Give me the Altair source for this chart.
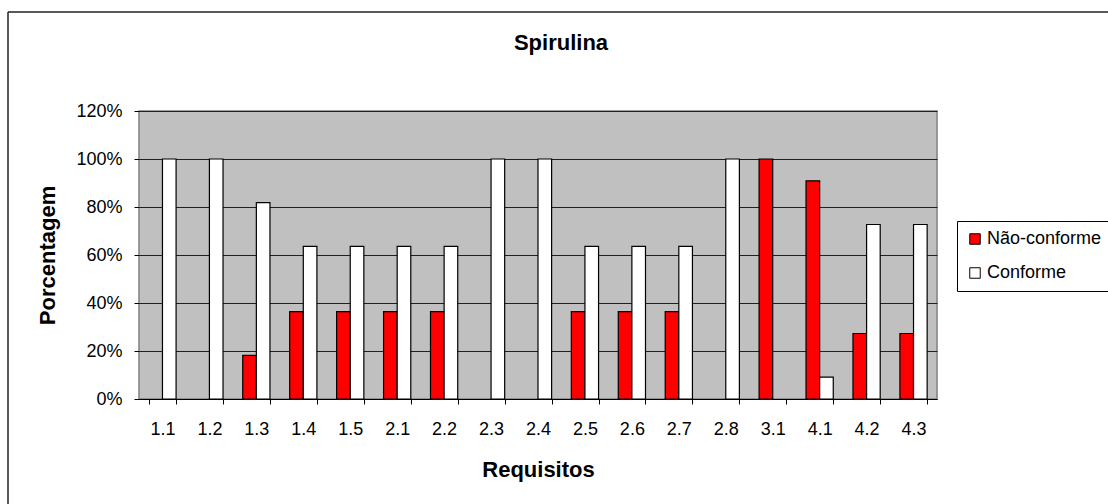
import altair as alt
import pandas as pd

categories = ["1.1", "1.2", "1.3", "1.4", "1.5", "2.1", "2.2", "2.3", "2.4",
              "2.5", "2.6", "2.7", "2.8", "3.1", "4.1", "4.2", "4.3"]
nao_conforme = [0, 0, 0.182, 0.364, 0.364, 0.364, 0.364, 0, 0,
                0.364, 0.364, 0.364, 0, 1.0, 0.909, 0.273, 0.273]
conforme = [1.0, 1.0, 0.818, 0.636, 0.636, 0.636, 0.636, 1.0, 1.0,
            0.636, 0.636, 0.636, 1.0, 0, 0.091, 0.727, 0.727]
series = ["Não-conforme", "Conforme"]
colors = ["#FF0000", "#FFFFFF"]
y_ticks = [0, 0.2, 0.4, 0.6, 0.8, 1.0, 1.2]
title_text = "Spirulina"

rows = []
for c, n, k in zip(categories, nao_conforme, conforme):
    rows.append({"Requisito": c, "Serie": series[0], "Valor": n})
    rows.append({"Requisito": c, "Serie": series[1], "Valor": k})
df = pd.DataFrame(rows)

W, H = 798, 288
PL, PT = 139, 111

bars = alt.Chart(df).mark_bar(stroke="black", strokeWidth=1.2).encode(
    x=alt.X("Requisito:N", sort=categories,
            scale=alt.Scale(domain=categories, paddingInner=0.42, paddingOuter=0.21),
            axis=alt.Axis(title="Requisitos", labelAngle=0, tickBand="extent",
                          labelFontSize=18, labelPadding=16, tickSize=5,
                          titleFontSize=22, titleFontWeight="bold",
                          titlePadding=21, domainColor="black",
                          tickColor="black", labelColor="black")),
    xOffset=alt.XOffset("Serie:N", sort=series, scale=alt.Scale(domain=series)),
    y=alt.Y("Valor:Q", scale=alt.Scale(domain=[0, 1.2], nice=False),
            axis=alt.Axis(title="Porcentagem", format=".0%", values=y_ticks,
                          labelFontSize=18, labelPadding=12, tickSize=5,
                          titleFontSize=22, titleFontWeight="bold",
                          titleAngle=-90, titleX=-92, titleY=144,
                          titleAlign="center", titleBaseline="middle",
                          grid=True, gridColor="#202020", gridWidth=1,
                          domain=False, tickColor="black", labelColor="black")),
    color=alt.Color("Serie:N", sort=series,
                    scale=alt.Scale(domain=series, range=colors),
                    legend=alt.Legend(title=None, orient="none",
                                      legendX=818, legendY=110,
                                      labelFontSize=18, symbolType="square",
                                      symbolSize=110, symbolStrokeColor="black",
                                      symbolStrokeWidth=1, rowPadding=16,
                                      padding=9, labelOffset=3,
                                      strokeColor="black",
                                      fillColor="white", labelColor="black",
                                      labelLimit=300)),
).transform_filter("datum.Valor > 0")

frame_df = pd.DataFrame({"a": [0]})
top_border = alt.Chart(frame_df).mark_rule(color="#222222", strokeWidth=1.5).encode(
    x=alt.value(8 - PL), x2=alt.value(1120 - PL), y=alt.value(12 - PT))
left_border = alt.Chart(frame_df).mark_rule(color="#222222", strokeWidth=1.5).encode(
    x=alt.value(8 - PL), y=alt.value(12 - PT), y2=alt.value(520 - PT))
title = alt.Chart(pd.DataFrame({"t": [title_text]})).mark_text(
    fontSize=22, fontWeight="bold", color="black", align="center",
    baseline="alphabetic", clip=False
).encode(text="t:N", x=alt.value(561 - PL), y=alt.value(50 - PT))

chart = alt.layer(bars, top_border, left_border, title).properties(
    width=W, height=H,
    autosize=alt.AutoSizeParams(type="none"),
    padding={"left": PL, "top": PT, "right": 1108 - PL - W, "bottom": 504 - PT - H},
    background="white",
).configure(
    font="Liberation Sans"
).configure_view(
    fill="#C0C0C0", stroke="#808080", strokeWidth=1.5
)

chart.save("out.html", embed_options={"renderer": "svg", "actions": False})
